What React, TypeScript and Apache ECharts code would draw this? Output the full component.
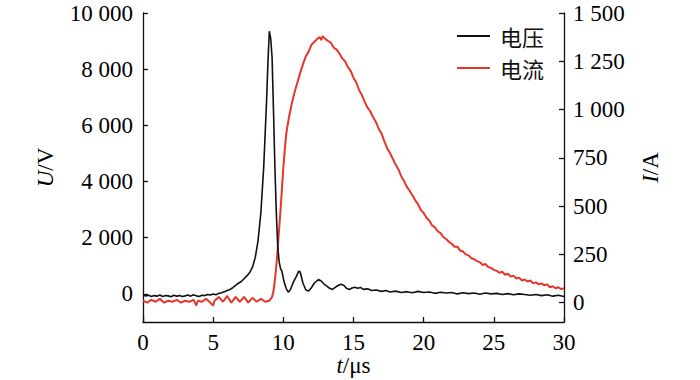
import React, { useEffect, useRef } from "react";
import * as echarts from "echarts";

const uTimes = [0, 0.2, 0.4, 0.6, 0.8, 1.0, 1.2, 1.4, 1.6, 1.8, 2.0, 2.2, 2.4, 2.6, 2.8, 3.0, 3.2, 3.4, 3.6, 3.8, 4.0, 4.2, 4.4, 4.6, 4.8, 5.0, 5.2, 5.4, 5.6, 5.8, 6.0, 6.2, 6.4, 6.6, 6.8, 7.0, 7.2, 7.4, 7.6, 7.8, 8.0, 8.2, 8.4, 8.6, 8.8, 8.9, 9.0, 9.1, 9.2, 9.3, 9.4, 9.5, 9.6, 9.7, 9.8, 9.9, 10.0, 10.1, 10.2, 10.35, 10.5, 10.7, 10.9, 11.1, 11.2, 11.4, 11.6, 11.8, 12.0, 12.2, 12.5, 12.7, 12.9, 13.1, 13.3, 13.5, 13.7, 13.9, 14.1, 14.3, 14.5, 14.7, 14.9, 15.1, 15.3, 15.5, 15.7, 16.0, 16.3, 16.6, 17.0, 17.3, 17.6, 18.0, 18.4, 18.8, 19.2, 19.6, 20.0, 20.4, 20.8, 21.2, 21.6, 22.0, 22.4, 22.8, 23.2, 23.6, 24.0, 24.4, 24.8, 25.2, 25.6, 26.0, 26.4, 26.8, 27.2, 27.6, 28.0, 28.4, 28.8, 29.2, 29.6, 30.0];
const uValues = [-40, -70, -50, -90, -60, -80, -40, -90, -60, -70, -100, -50, -80, -60, -90, -70, -40, -80, -30, -70, -90, -50, -60, -20, -40, 0, -30, 20, 40, 80, 120, 160, 220, 300, 380, 440, 540, 640, 760, 950, 1300, 1900, 2900, 4500, 6800, 8200, 9350, 9100, 8400, 6500, 4500, 2900, 1700, 1150, 900, 800, 550, 350, 200, 60, 150, 400, 600, 810, 780, 380, 150, 100, 220, 380, 510, 460, 350, 280, 200, 160, 230, 300, 340, 310, 200, 160, 210, 240, 200, 230, 160, 180, 120, 140, 90, 120, 70, 100, 50, 80, 40, 90, 50, 70, 20, 60, 30, 50, 0, 40, 10, 30, -10, 30, 0, 20, -20, 10, -30, 0, -20, -50, -20, -60, -30, -80, -50, -90];

const iTimes = [0, 0.3, 0.6, 0.9, 1.2, 1.5, 1.8, 2.1, 2.4, 2.7, 3.0, 3.3, 3.6, 3.8, 3.9, 4.2, 4.5, 4.8, 5.0, 5.1, 5.4, 5.7, 6.0, 6.3, 6.6, 6.9, 7.2, 7.5, 7.8, 8.1, 8.4, 8.7, 9.0, 9.2, 9.3, 9.4, 9.5, 9.6, 9.7, 9.8, 9.9, 10.0, 10.1, 10.2, 10.4, 10.6, 10.8, 11.0, 11.2, 11.4, 11.6, 11.8, 12.0, 12.2, 12.4, 12.6, 12.7, 12.8, 13.0, 13.2, 13.4, 13.6, 13.8, 14.0, 14.2, 14.4, 14.6, 14.8, 15.0, 15.2, 15.4, 15.6, 15.8, 16.0, 16.2, 16.4, 16.6, 16.8, 17.0, 17.2, 17.4, 17.6, 17.8, 18.0, 18.2, 18.4, 18.6, 18.8, 19.0, 19.2, 19.4, 19.6, 19.8, 20.0, 20.2, 20.4, 20.6, 20.8, 21.0, 21.2, 21.4, 21.6, 21.8, 22.0, 22.2, 22.4, 22.6, 22.8, 23.0, 23.2, 23.4, 23.6, 23.8, 24.0, 24.2, 24.4, 24.6, 24.8, 25.0, 25.2, 25.4, 25.6, 25.8, 26.0, 26.2, 26.4, 26.6, 26.8, 27.0, 27.2, 27.4, 27.6, 27.8, 28.0, 28.2, 28.4, 28.6, 28.8, 29.0, 29.2, 29.4, 29.6, 29.8, 30.0];
const iValues = [10, 0, 15, 5, 20, 0, 10, 5, 15, 0, 10, 5, 15, -15, 10, 5, 20, 0, -15, 10, 30, 5, 35, 0, 30, 5, 30, 0, 25, 5, 20, 5, 10, 30, 60, 120, 190, 280, 380, 480, 590, 700, 790, 870, 960, 1030, 1090, 1140, 1190, 1235, 1275, 1300, 1335, 1350, 1365, 1375, 1360, 1380, 1365, 1355, 1345, 1320, 1310, 1290, 1265, 1250, 1220, 1200, 1165, 1140, 1100, 1075, 1040, 1010, 990, 960, 935, 900, 875, 835, 800, 775, 745, 715, 690, 655, 630, 600, 580, 555, 530, 510, 480, 465, 440, 425, 400, 390, 370, 360, 340, 330, 315, 305, 290, 290, 270, 265, 250, 245, 230, 225, 215, 210, 195, 200, 185, 180, 170, 165, 155, 160, 145, 150, 135, 140, 125, 130, 115, 120, 110, 115, 100, 105, 95, 100, 90, 95, 80, 85, 75, 80, 70, 75];

const uTicks = [0, 2000, 4000, 6000, 8000, 10000];
const iTicks = [0, 250, 500, 750, 1000, 1250, 1500];
const seriesNames = ["电压", "电流"];

const SERIF = "Liberation Serif";
const FS = 23;
const fmt = (v: number) => {
  const s = String(Math.round(v));
  return s.length > 3 ? s.slice(0, s.length - 3) + " " + s.slice(s.length - 3) : s;
};

export default function App() {
  const ref = useRef<HTMLDivElement>(null);
  useEffect(() => {
    document.body.style.margin = "0";
    const chart = echarts.init(ref.current!, null, { renderer: "svg" });
    const axisLine = { show: true, onZero: false, lineStyle: { color: "#111", width: 1.3 } };
    const axisTick = { show: true, inside: true, length: 5, lineStyle: { color: "#111", width: 1.3 } };
    const label = { color: "#000", fontFamily: SERIF, fontSize: FS };
    const nameStyle = {
      color: "#000",
      fontFamily: SERIF,
      fontSize: FS,
      rich: { i: { fontStyle: "italic", fontFamily: SERIF, fontSize: FS, color: "#000" } },
    };
    chart.setOption({
      animation: false,
      backgroundColor: "#fff",
      grid: { left: 143, right: 136, top: 13, bottom: 58, outerBoundsMode: "none" },
      legend: {
        orient: "vertical",
        left: 452,
        top: 20,
        itemWidth: 33,
        itemHeight: 2,
        itemGap: 10,
        icon: "rect",
        textStyle: { color: "#111", fontSize: 22, fontFamily: "Noto Sans CJK SC", padding: [0, 0, 0, 5] },
        data: seriesNames,
      },
      xAxis: {
        type: "value",
        min: 0,
        max: 30,
        interval: 5,
        name: "{i|t}/μs",
        nameLocation: "middle",
        nameGap: 32,
        nameMoveOverlap: false,
        nameTextStyle: nameStyle,
        axisLine,
        axisTick,
        axisLabel: { ...label, margin: 9 },
        splitLine: { show: false },
      },
      yAxis: [
        {
          type: "value",
          min: -1000,
          max: 10000,
          position: "left",
          name: "{i|U}/V",
          nameLocation: "middle",
          nameRotate: 90,
          nameGap: 86,
          nameMoveOverlap: false,
          nameTextStyle: nameStyle,
          axisLine,
          axisTick: { ...axisTick, customValues: uTicks },
          axisLabel: { ...label, margin: 10, customValues: uTicks, formatter: fmt },
          splitLine: { show: false },
        },
        {
          type: "value",
          min: -100,
          max: 1500,
          position: "right",
          name: "{i|I}/A",
          nameLocation: "middle",
          nameRotate: 90,
          nameGap: 75,
          nameMoveOverlap: false,
          nameTextStyle: nameStyle,
          axisLine,
          axisTick: { ...axisTick, customValues: iTicks },
          axisLabel: { ...label, margin: 9, customValues: iTicks, formatter: fmt },
          splitLine: { show: false },
        },
      ],
      series: [
        {
          name: seriesNames[0],
          type: "line",
          yAxisIndex: 0,
          showSymbol: false,
          symbol: "none",
          lineStyle: { color: "#111", width: 1.6 },
          itemStyle: { color: "#111" },
          data: uTimes.map((t, k) => [t, uValues[k]]),
          z: 3,
        },
        {
          name: seriesNames[1],
          type: "line",
          yAxisIndex: 1,
          showSymbol: false,
          symbol: "none",
          lineStyle: { color: "#e8352b", width: 2 },
          itemStyle: { color: "#e8352b" },
          data: iTimes.map((t, k) => [t, iValues[k]]),
          z: 2,
        },
      ],
    });
    return () => chart.dispose();
  }, []);
  return <div ref={ref} style={{ width: 700, height: 380 }} />;
}
